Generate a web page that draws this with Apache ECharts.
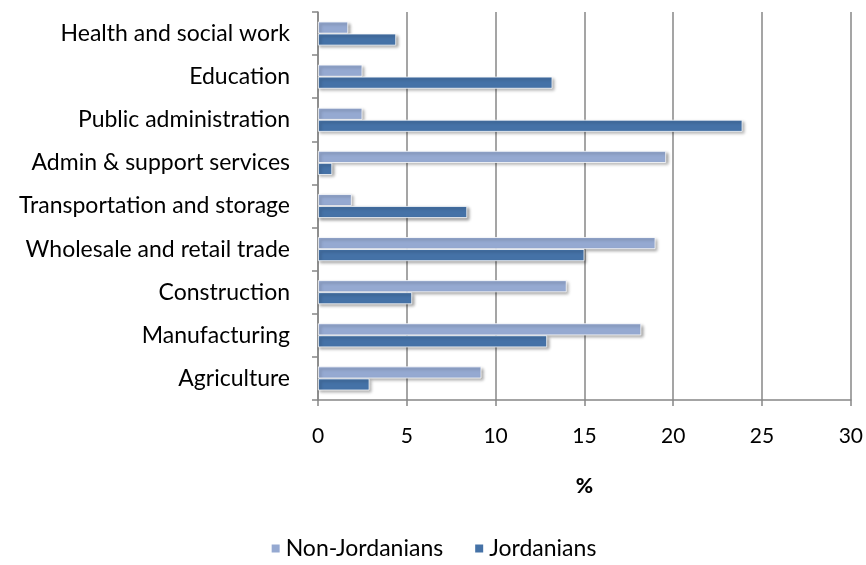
<!DOCTYPE html>
<html>
<head>
<meta charset="utf-8">
<script src="https://cdn.jsdelivr.net/npm/echarts@6/dist/echarts.min.js"></script>
<style>html,body{margin:0;padding:0;background:#fff}#c{width:866px;height:565px}</style>
</head>
<body>
<div id="c"></div>
<script>
const categories = ["Agriculture", "Manufacturing", "Construction", "Wholesale and retail trade", "Transportation and storage", "Admin & support services", "Public administration", "Education", "Health and social work"];
const nonJordanians = [9.2, 18.2, 14.0, 19.0, 1.9, 19.6, 2.5, 2.5, 1.7];
const jordanians = [2.9, 12.9, 5.3, 15.0, 8.4, 0.8, 23.9, 13.2, 4.4];
const xTicks = [0, 5, 10, 15, 20, 25, 30];

const FONT = "Lato";
const chart = echarts.init(document.getElementById('c'), null, {renderer: 'canvas'});
const barStyle = (color) => ({
  color: color,
  borderColor: '#ffffff',
  borderWidth: 0.8,
  shadowColor: 'rgba(0,0,0,0.35)',
  shadowBlur: 3,
  shadowOffsetX: 2,
  shadowOffsetY: 2
});
chart.setOption({
  animation: false,
  backgroundColor: '#ffffff',
  grid: {left: 318, right: 15, top: 12, bottom: 165, containLabel: false},
  legend: {
    bottom: 0,
    left: 'center',
    itemWidth: 10, itemHeight: 10, itemGap: 30,
    icon: 'rect',
    textStyle: {fontFamily: FONT, fontSize: 23, color: '#000'},
    data: ['Non-Jordanians', 'Jordanians']
  },
  xAxis: {
    type: 'value', min: xTicks[0], max: xTicks[xTicks.length - 1], interval: 5,
    name: '%', nameLocation: 'middle', nameGap: 76,
    nameTextStyle: {fontFamily: FONT, fontSize: 21, fontWeight: 900, color: '#000'},
    axisLine: {show: true, lineStyle: {color: '#878787', width: 1.5}},
    axisTick: {show: true, length: 6, lineStyle: {color: '#878787', width: 1.5}},
    axisLabel: {fontFamily: FONT, fontSize: 21, color: '#000', margin: 26},
    splitLine: {show: true, lineStyle: {color: '#878787', width: 1.5}}
  },
  yAxis: {
    type: 'category', data: categories,
    axisLine: {show: true, lineStyle: {color: '#878787', width: 1.5}},
    axisTick: {show: true, length: 6, lineStyle: {color: '#878787', width: 1.5}},
    axisLabel: {fontFamily: FONT, fontSize: 23, color: '#000', margin: 28}
  },
  series: [
    {name: 'Non-Jordanians', type: 'bar', data: nonJordanians, barWidth: 12, barGap: '0%', itemStyle: barStyle('#95A9D1')},
    {name: 'Jordanians', type: 'bar', data: jordanians, barWidth: 12, barGap: '0%', itemStyle: barStyle('#4572A7')}
  ]
});
</script>
</body>
</html>
